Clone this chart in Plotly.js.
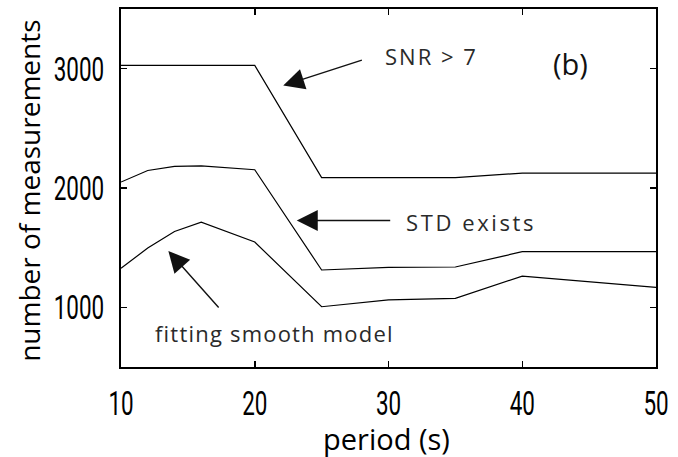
<!DOCTYPE html>
<html>
<head>
<meta charset="utf-8">
<script src="https://cdn.plot.ly/plotly-3.0.1.min.js"></script>
<style>
html,body{margin:0;padding:0;background:#fff;}
#chart{width:678px;height:457px;}
</style>
</head>
<body>
<div id="chart"></div>
<script>
// period (s)
const periods = [10, 12, 14, 16, 20, 25, 30, 35, 40, 50];
// number of measurements
const snrAbove7 = [3028, 3028, 3028, 3028, 3028, 2087, 2087, 2087, 2125, 2125];
const stdExists = [2050, 2147, 2181, 2186, 2153, 1313, 1335, 1338, 1466, 1466];
const fittingSmoothModel = [1327, 1497, 1636, 1713, 1547, 1005, 1062, 1075, 1262, 1167];

const xTicks = [10, 20, 30, 40, 50];
const yTicks = [1000, 2000, 3000];

const xTitle = 'period (s)';
const yTitle = 'number of measurements';

const labelFont = {family: 'Open Sans, Noto Sans, sans-serif', size: 22, color: '#2a2a2a'};
const tickFont = {family: 'Roboto, Liberation Sans, sans-serif', size: 34, color: '#000'};
const titleFont = {family: 'Open Sans, Noto Sans, sans-serif', size: 28, color: '#000'};

const lineStyle = {color: '#000', width: 1.2};
const traces = [
  {x: periods, y: snrAbove7, name: 'SNR > 7', mode: 'lines', line: lineStyle},
  {x: periods, y: stdExists, name: 'STD exists', mode: 'lines', line: lineStyle},
  {x: periods, y: fittingSmoothModel, name: 'fitting smooth model', mode: 'lines', line: lineStyle}
];

const arrowBase = {
  xref: 'x', yref: 'y', axref: 'x', ayref: 'y',
  showarrow: true, arrowhead: 2, arrowsize: 3, arrowwidth: 1.4, arrowcolor: '#111', text: ''
};

const layout = {
  width: 678, height: 457,
  margin: {l: 121, r: 22, t: 9, b: 90},
  paper_bgcolor: '#fff', plot_bgcolor: '#fff',
  showlegend: false,
  xaxis: {
    range: [10, 50], tickvals: xTicks, ticktext: xTicks.map(String),
    ticks: 'inside', ticklen: 6, tickwidth: 1.5, tickcolor: '#000',
    showline: true, linecolor: '#000', linewidth: 2, mirror: 'ticks',
    showgrid: false, zeroline: false,
    tickfont: tickFont, ticklabelstandoff: 5
  },
  yaxis: {
    range: [500, 3500], tickvals: yTicks, ticktext: yTicks.map(String),
    ticks: 'inside', ticklen: 6, tickwidth: 1.5, tickcolor: '#000',
    showline: true, linecolor: '#000', linewidth: 2, mirror: 'ticks',
    showgrid: false, zeroline: false,
    tickfont: tickFont, ticklabelstandoff: 8
  },
  annotations: [
    // axis titles
    {xref: 'paper', yref: 'paper', x: 0.497, y: -0.2, xanchor: 'center', yanchor: 'middle', showarrow: false,
     text: xTitle, font: Object.assign({}, titleFont, {size: 29})},
    {xref: 'paper', yref: 'paper', x: -0.172, y: 0.492, xanchor: 'center', yanchor: 'middle', showarrow: false,
     textangle: -90, text: yTitle, font: titleFont},
    // arrows
    Object.assign({}, arrowBase, {x: 22.13, y: 2858, ax: 28.12, ay: 3075}),
    Object.assign({}, arrowBase, {x: 23.14, y: 1728, ax: 30.24, ay: 1728}),
    Object.assign({}, arrowBase, {x: 13.54, y: 1472, ax: 17.40, ay: 986}),
    // labels
    {xref: 'x', yref: 'y', x: 33.25, y: 3110, xanchor: 'center', yanchor: 'middle', showarrow: false,
     text: 'SNR > 7', font: labelFont},
    {xref: 'x', yref: 'y', x: 43.57, y: 3044, xanchor: 'center', yanchor: 'middle', showarrow: false,
     text: '(b)', font: {family: 'Open Sans, Noto Sans, sans-serif', size: 29, color: '#111'}},
    {xref: 'x', yref: 'y', x: 36.17, y: 1719, xanchor: 'center', yanchor: 'middle', showarrow: false,
     text: 'STD exists', font: labelFont},
    {xref: 'x', yref: 'y', x: 21.44, y: 782, xanchor: 'center', yanchor: 'middle', showarrow: false,
     text: 'fitting smooth model', font: labelFont}
  ]
};

const spacing = {'SNR > 7': '2px', 'STD exists': '2.6px', 'fitting smooth model': '1.2px'};

Plotly.newPlot('chart', traces, layout, {staticPlot: true, displayModeBar: false}).then(function (gd) {
  // condense the tick numerals horizontally about their anchor point (reference uses a condensed face)
  gd.querySelectorAll('.xtick text, .ytick text').forEach(function (t) {
    const tr = t.getAttribute('transform') || '';
    const ax = parseFloat(t.getAttribute('x') || '0') || 0;
    t.setAttribute('transform', tr + ' translate(' + ax + ',0) scale(0.66,1) translate(' + (-ax) + ',0)');
  });
  gd.querySelectorAll('.annotation-text').forEach(function (t) {
    const s = spacing[t.textContent];
    if (s) t.style.letterSpacing = s;
  });
});
</script>
</body>
</html>
